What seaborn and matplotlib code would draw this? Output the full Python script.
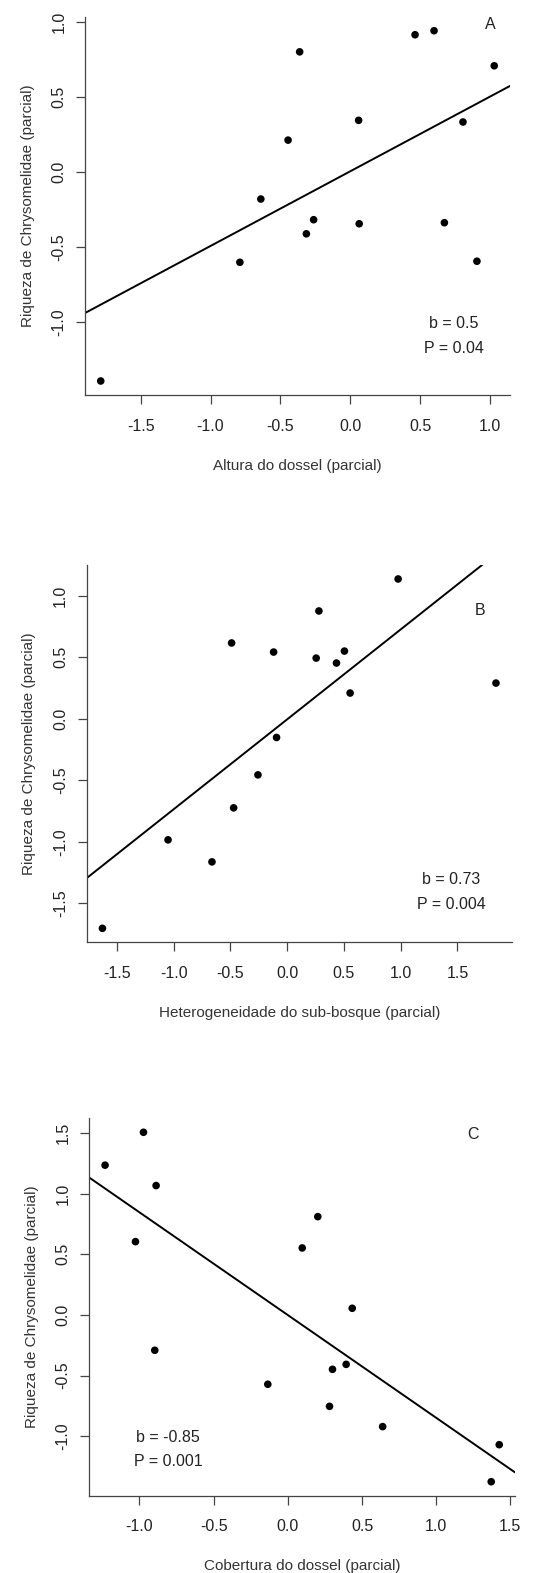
import numpy as np
import pandas as pd
import matplotlib
matplotlib.use("Agg")
import matplotlib.pyplot as plt
import seaborn as sns

# ---------------- data ----------------
a_x = [-1.786, -0.790, -0.640, -0.445, -0.362, -0.314, -0.262, 0.060, 0.064,
       0.464, 0.600, 0.674, 0.807, 0.907, 1.031]
a_y = [-1.395, -0.603, -0.181, 0.212, 0.801, -0.413, -0.319, 0.344, -0.346,
       0.915, 0.942, -0.339, 0.333, -0.596, 0.708]

b_x = [-1.628, -1.050, -0.663, -0.490, -0.472, -0.258, -0.120, -0.094, 0.255,
       0.279, 0.434, 0.504, 0.554, 0.977, 1.839]
b_y = [-1.703, -0.984, -1.163, 0.616, -0.724, -0.456, 0.542, -0.152, 0.493,
       0.876, 0.453, 0.550, 0.209, 1.136, 0.290]

c_x = [-1.232, -1.027, -0.973, -0.897, -0.888, -0.135, 0.097, 0.202, 0.281,
       0.301, 0.393, 0.434, 0.639, 1.371, 1.425]
c_y = [1.234, 0.604, 1.505, -0.291, 1.066, -0.571, 0.552, 0.810, -0.753,
       -0.448, -0.407, 0.055, -0.920, -1.374, -1.069]

a_xticks = [-1.5, -1.0, -0.5, 0.0, 0.5, 1.0]
a_yticks = [-1.0, -0.5, 0.0, 0.5, 1.0]
b_xticks = [-1.5, -1.0, -0.5, 0.0, 0.5, 1.0, 1.5]
b_yticks = [-1.5, -1.0, -0.5, 0.0, 0.5, 1.0]
c_xticks = [-1.0, -0.5, 0.0, 0.5, 1.0, 1.5]
c_yticks = [-1.0, -0.5, 0.0, 0.5, 1.0, 1.5]

xlabels = ["Altura do dossel (parcial)",
           "Heterogeneidade do sub-bosque (parcial)",
           "Cobertura do dossel (parcial)"]
ylabel = "Riqueza de Chrysomelidae (parcial)"
letters = ["A", "B", "C"]
stats_b = ["b = 0.5", "b = 0.73", "b = -0.85"]
stats_p = ["P = 0.04", "P = 0.004", "P = 0.001"]

# ---------------- style ----------------
sns.set_theme(style="white")
plt.rcParams["font.family"] = ["Liberation Sans", "DejaVu Sans"]
plt.rcParams["axes.unicode_minus"] = False

fig = plt.figure(figsize=(5.36, 15.73), dpi=100)
W, H = 536, 1573
boxes = [(85, 16.7, 510, 395), (86.7, 565, 511.7, 942.3), (89.3, 1118.3, 515, 1495.7)]

panels = [(a_x, a_y, a_xticks, a_yticks), (b_x, b_y, b_xticks, b_yticks),
          (c_x, c_y, c_xticks, c_yticks)]
letter_pos = [(1.0, 0.982), (1.695, 0.881), (1.245, 1.489)]
stat_pos = [(0.743, -1.011, -1.176), (1.446, -1.310, -1.508), (-0.807, -1.011, -1.209)]

text_col = "#222222"
for i, ((xs, ys, xt, yt), (l, t, r, b)) in enumerate(zip(panels, boxes)):
    ax = fig.add_axes([l / W, 1 - b / H, (r - l) / W, (b - t) / H])
    df = pd.DataFrame({"x": xs, "y": ys})
    xr = max(xs) - min(xs)
    yr = max(ys) - min(ys)
    xlim = (min(xs) - 0.04 * xr, max(xs) + 0.04 * xr)
    ylim = (min(ys) - 0.04 * yr, max(ys) + 0.04 * yr)
    ax.set_xlim(xlim)
    ax.set_ylim(ylim)
    sns.regplot(data=df, x="x", y="y", scatter=False, ci=None, truncate=False,
                line_kws=dict(color="black", lw=1.4), ax=ax)
    sns.scatterplot(data=df, x="x", y="y", color="black", s=30, edgecolor="none",
                    ax=ax, zorder=3)
    ax.set_xlim(xlim)
    ax.set_ylim(ylim)
    ax.set_xticks(xt)
    ax.set_xticklabels([f"{v:.1f}" for v in xt], fontsize=11.5, color=text_col)
    ax.set_yticks(yt)
    ax.set_yticklabels([f"{v:.1f}" for v in yt], fontsize=11.5, color=text_col,
                       rotation=90, va="center")
    ax.tick_params(axis="both", direction="out", length=6.5, width=0.9,
                   color="#444444", left=True, bottom=True)
    ax.tick_params(axis="x", pad=10.5)
    ax.tick_params(axis="y", pad=7)
    for s in ["top", "right"]:
        ax.spines[s].set_visible(False)
    for s in ["left", "bottom"]:
        ax.spines[s].set_color("#444444")
        ax.spines[s].set_linewidth(0.9)
    ax.set_xlabel(xlabels[i], fontsize=11, color="#333333", labelpad=18)
    ax.set_ylabel(ylabel, fontsize=11, color="#333333", labelpad=12)
    lx, ly = letter_pos[i]
    ax.text(lx, ly, letters[i], fontsize=11.5, color=text_col, ha="center", va="center")
    sx, sy1, sy2 = stat_pos[i]
    ax.text(sx, sy1, stats_b[i], fontsize=11.5, color=text_col, ha="center", va="center")
    ax.text(sx, sy2, stats_p[i], fontsize=11.5, color=text_col, ha="center", va="center")

fig.savefig("out.png", dpi=100)
